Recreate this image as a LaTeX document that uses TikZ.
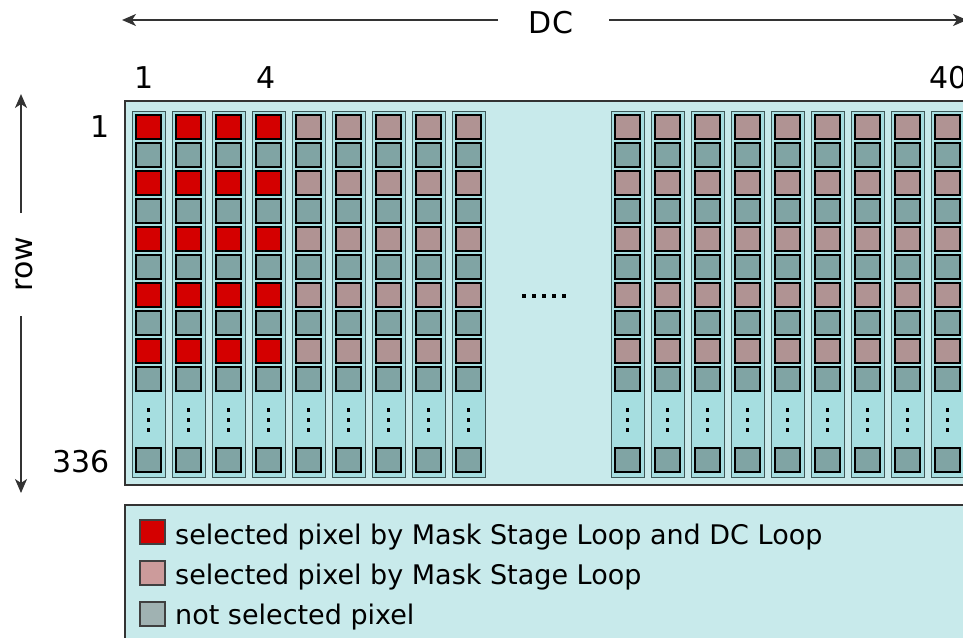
\documentclass[tikz,border=0pt]{standalone}
\usepackage{fontspec}
\setmainfont{DejaVu Sans}
\usetikzlibrary{arrows.meta}
\definecolor{bgc}{HTML}{C8EAEB}
\definecolor{colc}{HTML}{A6DEE0}
\definecolor{colborder}{HTML}{3E5858}
\definecolor{redpx}{HTML}{D40000}
\definecolor{pinkpx}{HTML}{B09393}
\definecolor{graypx}{HTML}{80A4A4}
\definecolor{pinkleg}{HTML}{CC9B9B}
\definecolor{grayleg}{HTML}{A0B2B2}
\begin{document}
\begin{tikzpicture}[x=1pt,y=-1pt,
  frame/.style={draw=black!80, line width=1.5pt, fill=bgc},
  column/.style={draw=colborder, line width=1pt, fill=colc},
  px/.style={draw=black, line width=1.5pt},
  legpx/.style={draw=black!75, line width=1.2pt},
  lbl/.style={font=\fontsize{30}{34}\selectfont, inner sep=0pt},
  legtxt/.style={font=\fontsize{27}{31}\selectfont, inner sep=0pt, anchor=base west},
  dotsq/.style={fill=black},
  arr/.style={draw=black!80, line width=1.8pt, -{Stealth[length=14pt,width=12pt,inset=4pt]}}]
\useasboundingbox (0,0) rectangle (963,637);

% main frame
\draw[frame] (125,101) rectangle (980,485);

% columns
\foreach \x in {132,172,212,252,292,332,372,412,452,611,651,691,731,771,811,851,891,931} {
  \draw[column] (\x,111) rectangle ++(33,366);
  \foreach \k in {1,3,5,7,9} {
    \draw[px, fill=graypx] (\x+4,115+28*\k) rectangle ++(25,24);
  }
  \draw[px, fill=graypx] (\x+4,448) rectangle ++(25,24);
  \foreach \yy in {410,420,430} {
    \fill[dotsq] (\x+14.75,\yy-1.75) rectangle ++(3.5,3.5);
  }
}
\foreach \x in {132,172,212,252} {
  \foreach \k in {0,2,4,6,8} {
    \draw[px, fill=redpx] (\x+4,115+28*\k) rectangle ++(25,24);
  }
}
\foreach \x in {292,332,372,412,452,611,651,691,731,771,811,851,891,931} {
  \foreach \k in {0,2,4,6,8} {
    \draw[px, fill=pinkpx] (\x+4,115+28*\k) rectangle ++(25,24);
  }
}
% ..... between groups
\foreach \xx in {524,534,544,554,564} {
  \fill[dotsq] (\xx-1.75,296-1.75) rectangle ++(3.5,3.5);
}

% DC axis
\node[lbl, anchor=base] (dc) at (551,33) {DC};
\coordinate (dcl) at (122,20);
\coordinate (dcr) at (967,20);
\coordinate (dcla) at (498,20);
\coordinate (dcra) at (609,20);
\draw[arr] (dcla) -- (dcl);
\draw[arr] (dcra) -- (dcr);

% column labels
\node[lbl, anchor=base] (c1) at (144.5,88) {1};
\node[lbl, anchor=base] (c4) at (266,88) {4};
\node[lbl, anchor=base west] (c40) at (929,88) {40};

% row axis
\node[lbl, rotate=90] (row) at (24,264) {row};
\coordinate (rowt) at (21,94);
\coordinate (rowb) at (21,493);
\coordinate (rowta) at (21,213);
\coordinate (rowba) at (21,316);
\draw[arr] (rowta) -- (rowt);
\draw[arr] (rowba) -- (rowb);
\node[lbl, anchor=base east] (r1) at (110,137) {1};
\node[lbl, anchor=base east] (r336) at (110,472) {336};

% legend
\draw[frame] (125,505) rectangle (980,650);
\draw[legpx, fill=redpx] (140,520) rectangle ++(25,24);
\draw[legpx, fill=pinkleg] (140,561) rectangle ++(25,24);
\draw[legpx, fill=grayleg] (140,602) rectangle ++(25,24);
\node[legtxt] (l1) at (175,544) {selected pixel by Mask Stage Loop and DC Loop};
\node[legtxt] (l2) at (175,584) {selected pixel by Mask Stage Loop};
\node[legtxt] (l3) at (175,624) {not selected pixel};
\end{tikzpicture}
\end{document}
